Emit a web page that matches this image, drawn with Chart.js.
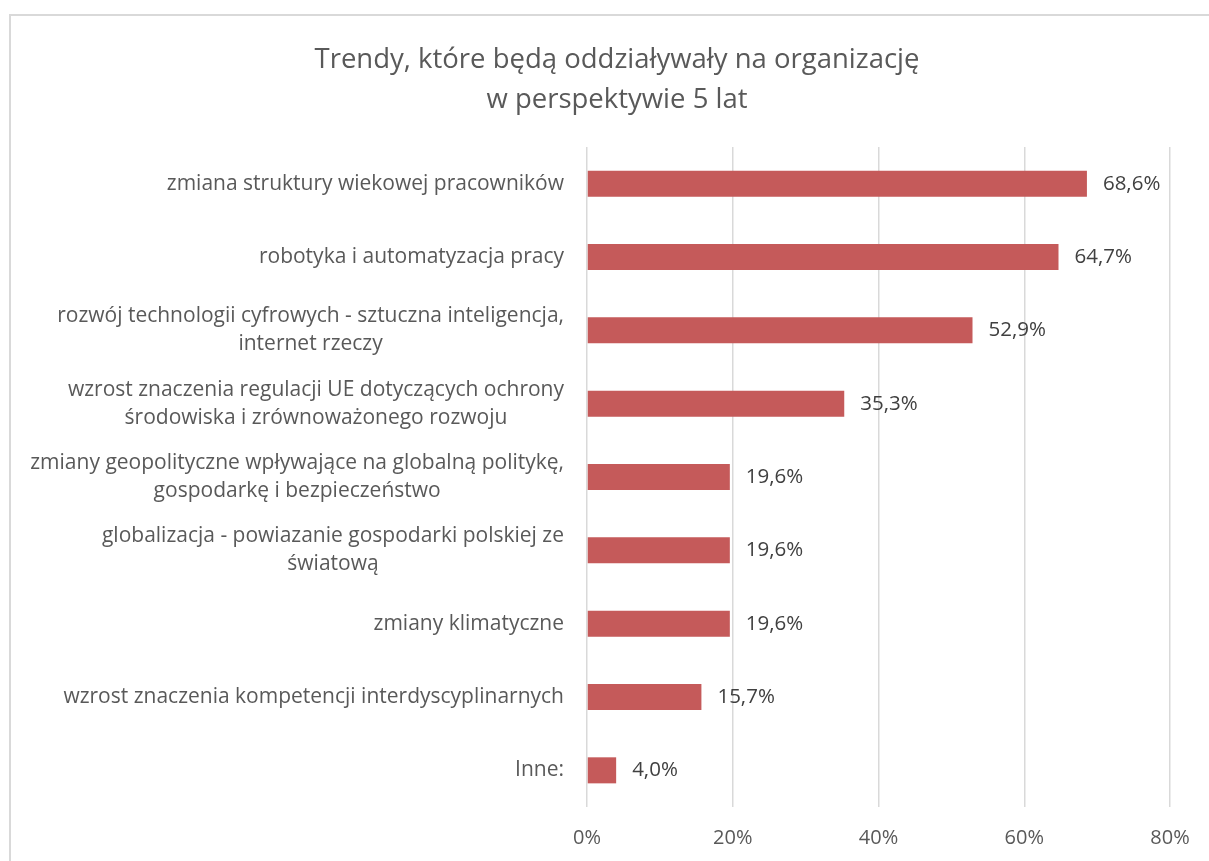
<!DOCTYPE html>
<html>
<head>
<meta charset="utf-8">
<script src="https://cdn.jsdelivr.net/npm/chart.js@4.4.0/dist/chart.umd.min.js"></script>
<style>
    html, body { margin: 0; padding: 0; background: #fff; }
    #frame { position: absolute; left: 9px; top: 14px; width: 1300px; height: 1000px; border: 2px solid #d9d9d9; }
    #wrap { position: absolute; left: 0; top: 0; width: 1209px; height: 861px; }
</style>
</head>
<body>
<div id="frame"></div>
<div id="wrap"><canvas id="chart"></canvas></div>
<script>
const titleLines = ['Trendy, które będą oddziaływały na organizację', 'w perspektywie 5 lat'];

const categories = [
    'zmiana struktury wiekowej pracowników',
    'robotyka i automatyzacja pracy',
    ['rozwój technologii cyfrowych - sztuczna inteligencja,', 'internet rzeczy'],
    ['wzrost znaczenia regulacji UE dotyczących ochrony', 'środowiska i zrównoważonego rozwoju'],
    ['zmiany geopolityczne wpływające na globalną politykę,', 'gospodarkę i bezpieczeństwo'],
    ['globalizacja - powiazanie gospodarki polskiej ze', 'światową'],
    'zmiany klimatyczne',
    'wzrost znaczenia kompetencji interdyscyplinarnych',
    'Inne:'
];

const values = [68.6, 64.7, 52.9, 35.3, 19.6, 19.6, 19.6, 15.7, 4.0];

const xMin = 0;
const xMax = 80;
const xStep = 20;

const FONT = '"Open Sans", Lato, sans-serif';

// category labels (centred lines, block right-aligned) and value labels
const labelPlugin = {
    id: 'labels',
    afterDatasetsDraw: function(chart) {
        const ctx = chart.ctx;
        const yScale = chart.scales.y;
        ctx.save();
        ctx.font = '21px ' + FONT;
        ctx.textBaseline = 'middle';

        ctx.fillStyle = '#595959';
        ctx.textAlign = 'center';
        categories.forEach(function(lab, i) {
            const lines = Array.isArray(lab) ? lab : [lab];
            const w = Math.max.apply(null, lines.map(function(l) { return ctx.measureText(l).width; }));
            const cx = yScale.right - 23 - w / 2;
            const cy = yScale.getPixelForTick(i);
            lines.forEach(function(l, j) {
                ctx.fillText(l, cx, cy + (j - (lines.length - 1) / 2) * 28);
            });
        });

        ctx.fillStyle = '#404040';
        ctx.font = '20.5px ' + FONT;
        ctx.textAlign = 'left';
        const meta = chart.getDatasetMeta(0);
        meta.data.forEach(function(bar, i) {
            ctx.fillText(values[i].toFixed(1).replace('.', ',') + '%', bar.x + 16, bar.y);
        });
        ctx.restore();
    }
};

function draw() {
    new Chart(document.getElementById('chart'), {
        type: 'bar',
        data: {
            labels: categories,
            datasets: [{
                data: values,
                backgroundColor: '#c55a5a',
                borderWidth: 0,
                categoryPercentage: 0.355,
                barPercentage: 1
            }]
        },
        options: {
            indexAxis: 'y',
            responsive: true,
            maintainAspectRatio: false,
            animation: false,
            layout: { padding: { left: 64, right: 39, top: 0, bottom: 0 } },
            plugins: {
                legend: { display: false },
                tooltip: { enabled: false },
                title: {
                    display: true,
                    text: titleLines,
                    color: '#595959',
                    font: { family: FONT, size: 27.5, weight: 'normal', lineHeight: '40px' },
                    padding: { top: 40, bottom: 27 }
                }
            },
            scales: {
                x: {
                    min: xMin,
                    max: xMax,
                    ticks: {
                        stepSize: xStep,
                        color: '#595959',
                        font: { family: FONT, size: 20 },
                        padding: 19,
                        callback: function(v) { return v + '%'; }
                    },
                    grid: { color: '#d9d9d9', lineWidth: 1.5, drawTicks: false },
                    border: { display: false },
                    afterFit: function(scale) { scale.height = 54; }
                },
                y: {
                    grid: { display: false },
                    border: { display: false },
                    ticks: { display: false },
                    afterFit: function(scale) { scale.width = 523; }
                }
            }
        },
        plugins: [labelPlugin]
    });
}

document.fonts.load('21px "Open Sans"').then(draw, draw);
</script>
</body>
</html>
